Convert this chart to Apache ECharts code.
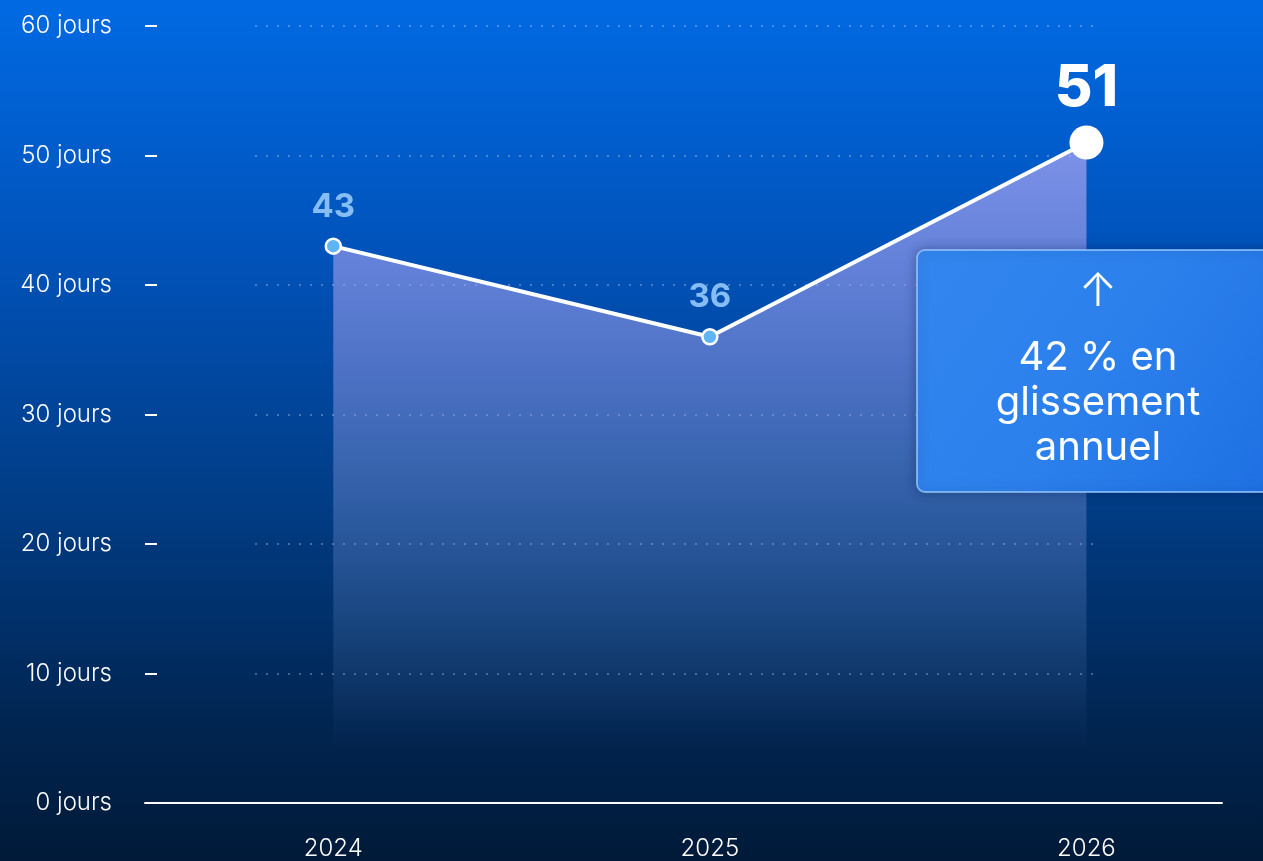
<!DOCTYPE html>
<html lang="fr">
<head>
<meta charset="utf-8">
<title>Durée moyenne en jours</title>
<script src="https://cdn.jsdelivr.net/npm/echarts@6/dist/echarts.min.js"></script>
<style>
  html, body { margin: 0; padding: 0; width: 100%; height: 100%; overflow: hidden; }
  #chart { width: 1263px; height: 861px; }
</style>
</head>
<body>
<div id="chart"></div>
<script>
// Years on the horizontal axis and the number of days for each
const years = ['2024', '2025', '2026'];
const days = [43, 36, 51];
const yTicks = [0, 10, 20, 30, 40, 50, 60];
const calloutLines = ['↑', '42 % en', 'glissement', 'annuel'];

const FONT = 'Inter, "Noto Sans", sans-serif';
const chart = echarts.init(document.getElementById('chart'));

// Point styles: small blue dots for earlier years, large white dot for the last one
const points = days.map((v, i) => {
  const last = i === days.length - 1;
  return {
    value: [i, v],
    symbolSize: last ? 34 : 15,
    itemStyle: last
      ? { color: '#ffffff', borderColor: '#ffffff', borderWidth: 0 }
      : { color: '#5fb4f6', borderColor: '#ffffff', borderWidth: 2.5 },
    label: last
      ? { fontSize: 58, fontWeight: 800, color: '#ffffff', distance: 8 }
      : { fontSize: 33, fontWeight: 700, distance: 14, color: '#86bdf5' }
  };
});

const calloutText = (text, y, font) => ({
  type: 'text', x: 181, y: y, z: 101,
  style: { text: text, fill: '#ffffff', font: font, align: 'center', verticalAlign: 'middle' }
});

const option = {
  backgroundColor: new echarts.graphic.LinearGradient(0, 0, 0, 1, [
    { offset: 0, color: '#016ae3' },
    { offset: 0.3, color: '#0152b9' },
    { offset: 0.6, color: '#013b82' },
    { offset: 0.85, color: '#01244f' },
    { offset: 1, color: '#001a38' }
  ]),
  animation: false,
  grid: [
    { left: 145, right: 41, top: 26, bottom: 58 },
    { left: 255, right: 166, top: 26, bottom: 58 }
  ],
  xAxis: [
    {
      type: 'value', gridIndex: 0, min: -0.5, max: 2.36, interval: 0.5,
      splitLine: { show: false },
      axisTick: { show: false },
      axisLine: { show: true, onZero: false, lineStyle: { color: '#ffffff', width: 2 } },
      axisLabel: {
        color: '#ffffff', fontFamily: FONT, fontSize: 24, fontWeight: 300, margin: 34,
        showMinLabel: true, showMaxLabel: false,
        formatter: v => (Number.isInteger(v) && years[v] !== undefined ? years[v] : '')
      }
    },
    { type: 'value', gridIndex: 1, min: 0, max: 1, show: false }
  ],
  yAxis: [
    {
      type: 'value', gridIndex: 0, min: 0, max: 60, interval: 10,
      axisLine: { show: false, onZero: false },
      axisTick: { show: true, inside: true, length: 12, lineStyle: { color: '#ffffff', width: 2 } },
      splitLine: { show: false },
      axisLabel: {
        color: '#ffffff', fontFamily: FONT, fontSize: 24, fontWeight: 300, margin: 33,
        customValues: yTicks,
        formatter: v => v + ' jours'
      }
    },
    {
      type: 'value', gridIndex: 1, min: 0, max: 60, interval: 10,
      axisLine: { show: false, onZero: false }, axisTick: { show: false }, axisLabel: { show: false },
      splitLine: {
        show: true,
        lineStyle: { color: 'rgba(255,255,255,0.28)', width: 2, type: [2, 9] }
      }
    }
  ],
  series: [
    {
      type: 'line',
      xAxisIndex: 0, yAxisIndex: 0,
      data: points,
      symbol: 'circle',
      z: 5,
      lineStyle: { color: '#ffffff', width: 4 },
      label: { show: true, position: 'top', fontFamily: FONT, formatter: p => p.value[1] },
      areaStyle: {
        origin: 'start',
        color: new echarts.graphic.LinearGradient(0, 0, 0, 1, [
          { offset: 0, color: 'rgba(190,172,246,0.95)' },
          { offset: 0.35, color: 'rgba(165,162,238,0.66)' },
          { offset: 0.7, color: 'rgba(140,170,230,0.28)' },
          { offset: 0.92, color: 'rgba(140,170,230,0.0)' },
          { offset: 1, color: 'rgba(140,170,230,0)' }
        ])
      }
    }
  ],
  graphic: [
    {
      type: 'group', left: 916, top: 249, z: 100,
      children: [
        {
          type: 'rect', z: 100,
          shape: { x: 0, y: 0, width: 360, height: 242, r: 8 },
          style: {
            fill: new echarts.graphic.LinearGradient(0, 0, 1, 1, [
              { offset: 0, color: '#3386ee' },
              { offset: 0.5, color: '#2c80ec' },
              { offset: 1, color: '#1e70e2' }
            ]),
            stroke: 'rgba(150,200,255,0.75)', lineWidth: 2,
            shadowBlur: 12, shadowColor: 'rgba(0,20,60,0.35)'
          }
        },
        calloutText(calloutLines[0], 42, '300 46px ' + FONT),
        calloutText(calloutLines[1], 108, '400 40px ' + FONT),
        calloutText(calloutLines[2], 153, '400 40px ' + FONT),
        calloutText(calloutLines[3], 198, '400 40px ' + FONT)
      ]
    }
  ]
};

chart.setOption(option);
</script>
</body>
</html>
